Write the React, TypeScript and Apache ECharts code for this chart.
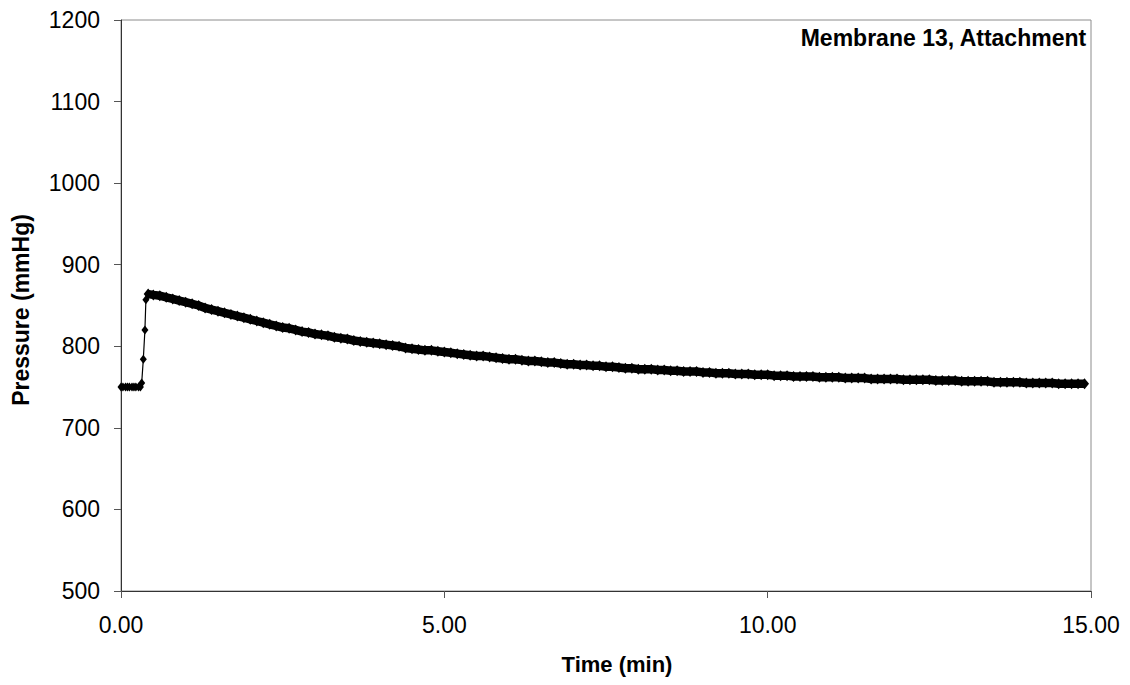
import React, { useEffect, useRef } from "react";
import * as echarts from "echarts";

const chartTitle = "Membrane 13, Attachment";
const xAxisTitle = "Time (min)";
const yAxisTitle = "Pressure (mmHg)";

// Baseline and pressurisation step (min, mmHg)
const riseTime = [0.0, 0.03, 0.07, 0.1, 0.13, 0.17, 0.2, 0.23, 0.27, 0.3, 0.32, 0.345, 0.37, 0.385, 0.42];
const risePressure = [750, 750, 750, 750, 750, 750, 750, 750, 750, 750, 755, 784, 820, 857, 864];

// Relaxation after the step (min, mmHg)
const decayTime = [
  0.42, 0.5, 0.6, 0.7, 0.8, 0.9, 1.0, 1.1, 1.2, 1.3, 1.4, 1.5, 1.6, 1.7, 1.8, 1.9,
  2.0, 2.1, 2.2, 2.3, 2.4, 2.5, 2.6, 2.7, 2.8, 2.9, 3.0, 3.1, 3.2, 3.3, 3.4, 3.5,
  3.6, 3.7, 3.8, 3.9, 4.0, 4.1, 4.2, 4.3, 4.4, 4.5, 4.6, 4.7, 4.8, 4.9, 5.0, 5.1,
  5.2, 5.3, 5.4, 5.5, 5.6, 5.7, 5.8, 5.9, 6.0, 6.1, 6.2, 6.3, 6.4, 6.5, 6.6, 6.7,
  6.8, 6.9, 7.0, 7.1, 7.2, 7.3, 7.4, 7.5, 7.6, 7.7, 7.8, 7.9, 8.0, 8.1, 8.2, 8.3,
  8.4, 8.5, 8.6, 8.7, 8.8, 8.9, 9.0, 9.1, 9.2, 9.3, 9.4, 9.5, 9.6, 9.7, 9.8, 9.9,
  10.0, 10.1, 10.2, 10.3, 10.4, 10.5, 10.6, 10.7, 10.8, 10.9, 11.0, 11.1, 11.2, 11.3,
  11.4, 11.5, 11.6, 11.7, 11.8, 11.9, 12.0, 12.1, 12.2, 12.3, 12.4, 12.5, 12.6, 12.7,
  12.8, 12.9, 13.0, 13.1, 13.2, 13.3, 13.4, 13.5, 13.6, 13.7, 13.8, 13.9, 14.0, 14.1,
  14.2, 14.3, 14.4, 14.5, 14.6, 14.7, 14.8, 14.9,
];
const decayPressure = [
  864, 863, 862, 860, 858, 856, 854, 852, 850, 847, 845, 843, 841, 839, 837, 835,
  833, 831, 829, 827, 825, 823, 822, 820, 818, 817, 815, 814, 813, 811, 810, 809,
  807, 806, 805, 804, 803, 802, 801, 800, 798, 797, 796, 795, 795, 794, 793, 792,
  791, 790, 789, 788, 788, 787, 786, 785, 784, 784, 783, 782, 782, 781, 780, 780,
  779, 778, 778, 777, 777, 776, 776, 775, 775, 774, 773, 773, 772, 772, 772, 771,
  771, 770, 770, 769, 769, 769, 768, 768, 767, 767, 767, 766, 766, 766, 765, 765,
  765, 764, 764, 764, 763, 763, 763, 763, 762, 762, 762, 762, 761, 761,
  761, 761, 760, 760, 760, 760, 760, 759, 759, 759, 759, 759, 758, 758,
  758, 758, 757, 757, 757, 757, 757, 756, 756, 756, 756, 756, 755, 755,
  755, 755, 755, 754, 754, 754, 754, 754,
];

const xTicks = [0, 5, 10, 15];
const yMin = 500;
const yMax = 1200;
const yStep = 100;

const FONT = "'Liberation Sans', Arial, sans-serif";

export default function App() {
  const ref = useRef<HTMLDivElement>(null);

  useEffect(() => {
    if (!ref.current) return;
    const chart = echarts.init(ref.current, null, { renderer: "svg" });
    const rise = riseTime.map((t, i) => [t, risePressure[i]]);
    const decay = decayTime.map((t, i) => [t, decayPressure[i]]);

    chart.setOption({
      animation: false,
      backgroundColor: "#ffffff",
      textStyle: { fontFamily: FONT },
      grid: {
        left: 121,
        right: 39,
        top: 20,
        bottom: 94,
        show: true,
        borderColor: "#8c8c8c",
        borderWidth: 1,
        backgroundColor: "transparent",
        outerBoundsMode: "none",
      },
      xAxis: {
        type: "value",
        min: xTicks[0],
        max: xTicks[xTicks.length - 1],
        interval: 5,
        axisLine: { show: true, lineStyle: { color: "#333333", width: 1 } },
        axisTick: { show: true, inside: false, length: 7, lineStyle: { color: "#555555" } },
        splitLine: { show: false },
        axisLabel: {
          margin: 22,
          color: "#000000",
          fontSize: 23,
          fontFamily: FONT,
          formatter: (v: number) => v.toFixed(2),
        },
      },
      yAxis: {
        type: "value",
        min: yMin,
        max: yMax,
        interval: yStep,
        axisLine: { show: true, lineStyle: { color: "#333333", width: 1 } },
        axisTick: { show: true, inside: false, length: 7, lineStyle: { color: "#555555" } },
        splitLine: { show: false },
        axisLabel: {
          margin: 21,
          color: "#000000",
          fontSize: 23,
          fontFamily: FONT,
          formatter: (v: number) => String(v),
        },
      },
      graphic: [
        {
          type: "text",
          right: 43,
          top: 26,
          style: {
            text: chartTitle,
            fontSize: 23,
            fontWeight: "bold",
            fontFamily: FONT,
            fill: "#000000",
          },
        },
        {
          type: "text",
          x: 617,
          y: 664,
          style: {
            text: xAxisTitle,
            fontSize: 22,
            fontWeight: "bold",
            fontFamily: FONT,
            fill: "#000000",
            align: "center",
            verticalAlign: "middle",
          },
        },
        {
          type: "text",
          x: 21,
          y: 310,
          rotation: Math.PI / 2,
          style: {
            text: yAxisTitle,
            fontSize: 23,
            fontWeight: "bold",
            fontFamily: FONT,
            fill: "#000000",
            align: "center",
            verticalAlign: "middle",
          },
        },
      ],
      series: [
        {
          name: "rise",
          type: "line",
          data: rise,
          symbol: "diamond",
          symbolSize: [7, 9],
          showAllSymbol: true,
          clip: false,
          itemStyle: { color: "#000000" },
          lineStyle: { color: "#000000", width: 1.2 },
          z: 3,
        },
        {
          name: "decay",
          type: "line",
          data: decay,
          symbol: "diamond",
          symbolSize: [9, 11],
          showAllSymbol: true,
          clip: false,
          itemStyle: { color: "#000000" },
          lineStyle: { color: "#000000", width: 8.5 },
          z: 3,
        },
      ],
    });

    return () => chart.dispose();
  }, []);

  return (
    <div
      ref={ref}
      style={{ position: "fixed", left: 0, top: 0, width: 1130, height: 685, background: "#fff" }}
    />
  );
}
